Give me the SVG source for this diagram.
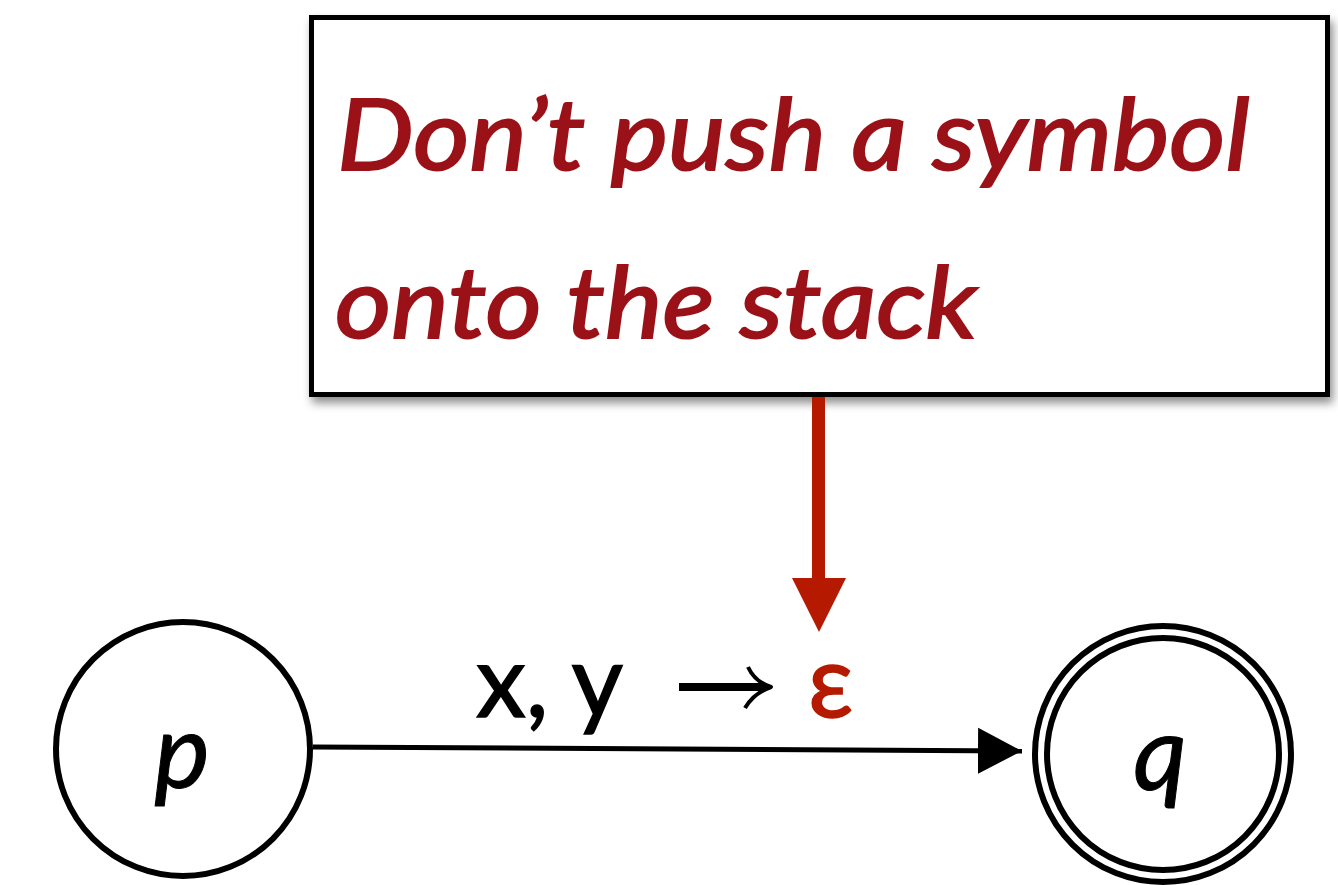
<svg xmlns="http://www.w3.org/2000/svg" width="1338" height="885" viewBox="0 0 1338 885">
<defs>
<filter id="sh" x="-5%" y="-5%" width="115%" height="125%">
<feDropShadow dx="3" dy="6" stdDeviation="5" flood-color="#000" flood-opacity="0.45"/>
</filter>
<marker id="ah" markerUnits="userSpaceOnUse" markerWidth="46" markerHeight="48" refX="44" refY="24" orient="auto">
<path d="M0,1 L44,24 L0,47 Z" fill="#000"/>
</marker>
</defs>
<style>
.node{fill:#fff;stroke:#000;stroke-width:6}
.lbl{font-family:Lato,"Open Sans","Liberation Sans",sans-serif;font-style:italic;fill:#000;stroke:#000;stroke-width:1}
.note{font-family:Lato,"Open Sans","Liberation Sans",sans-serif;font-style:italic;font-size:100px;fill:#9b1118;stroke:#9b1118;stroke-width:2}
.edge{font-family:Lato,"Open Sans","Liberation Sans",sans-serif;font-size:100px;fill:#000;stroke:#000;stroke-width:1.5}
</style>
<rect width="1338" height="885" fill="#fff"/>
<g id="note">
<rect x="311.5" y="17.5" width="1016" height="377" fill="#fff" stroke="#000" stroke-width="5" filter="url(#sh)"/>
<text class="note" x="337" y="170" textLength="913" lengthAdjust="spacingAndGlyphs">Don’t push a symbol</text>
<text class="note" x="335" y="338" textLength="642" lengthAdjust="spacingAndGlyphs">onto the stack</text>
</g>
<g id="connectors">
<line x1="313" y1="747" x2="1022" y2="751" stroke="#000" stroke-width="5" marker-end="url(#ah)"/>
<rect x="812" y="397" width="13" height="183" fill="#b51a00"/>
<path d="M792,578 L846,578 L819,632 Z" fill="#b51a00"/>
<text class="edge" x="476" y="717">x, y</text>
<path d="M679,687 L766,687" stroke="#000" stroke-width="8" fill="none"/>
<path d="M748,667 Q755,682 771,687 Q754,693 745,708" stroke="#000" stroke-width="4" fill="none" stroke-linejoin="round"/>
<text class="edge" x="808" y="717" font-size="106" style="fill:#b51a00;stroke:#b51a00">ε</text>
</g>
<g id="p">
<circle class="node" cx="183" cy="749" r="127"/>
<text class="lbl" x="182" y="788" font-size="105" text-anchor="middle">p</text>
</g>
<g id="q">
<circle class="node" cx="1163" cy="754" r="128"/>
<circle class="node" cx="1163" cy="754" r="116"/>
<text class="lbl" x="1160" y="790" font-size="105" text-anchor="middle">q</text>
</g>
</svg>
